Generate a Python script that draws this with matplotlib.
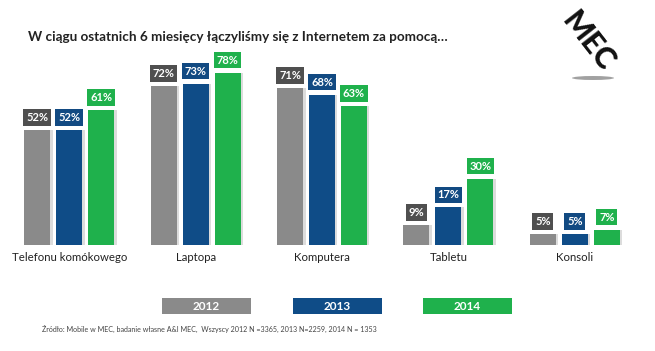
import matplotlib
matplotlib.use("Agg")
import matplotlib.pyplot as plt
from matplotlib.patches import Rectangle, Ellipse
import numpy as np

plt.rcParams['font.family'] = ['Lato', 'DejaVu Sans']

categories = ["Telefonu komókowego", "Laptopa", "Komputera", "Tabletu", "Konsoli"]
years = ["2012", "2013", "2014"]
v2012 = [52, 72, 71, 9, 5]
v2013 = [52, 73, 68, 17, 5]
v2014 = [61, 78, 63, 30, 7]
series = [v2012, v2013, v2014]

bar_colors = ["#8a8a8a", "#0f4c87", "#1fb14c"]
label_colors = ["#4f4f4f", "#124a82", "#1fb14c"]

W, H = 655, 351
fig = plt.figure(figsize=(W/100, H/100), dpi=100)
fig.patch.set_facecolor("white")

ax = fig.add_axes([6/W, (H-245)/H, 632/W, 221/H])
ax.set_xlim(-0.5, 4.5)
ax.set_ylim(0, 100)
ax.axis("off")

x = np.arange(len(categories))
off = 0.253
bw = 0.205
for i, vals in enumerate(series):
    xs = x + (i-1)*off
    # soft shadow
    ax.bar(xs + 0.02, vals, width=bw, color="#dcdcdc", zorder=1)
    ax.bar(xs, vals, width=bw, color=bar_colors[i], zorder=2)
    for xi, v in zip(xs, vals):
        ax.annotate(f"{v}%", (xi, v), xytext=(0, 9), textcoords="offset points",
                    ha="center", va="center", color="white", fontsize=8,
                    fontweight="bold",
                    bbox=dict(boxstyle="square,pad=0.25", fc=label_colors[i], ec="none"),
                    zorder=3)

for xi, c in zip(x, categories):
    ax.text(xi, -5.5, c, ha="center", va="center", fontsize=8.2, color="#222222")

fig.text(28/W, 1-37/H, "W ciągu ostatnich 6 miesięcy łączyliśmy się z Internetem za pomocą…",
         fontsize=9.7, fontweight="bold", color="#222222", ha="left", va="center")

# legend boxes
leg_x = [162, 293, 423]
for lx, yr, col in zip(leg_x, years, bar_colors):
    fig.patches.append(Rectangle((lx/W, 1-314/H), 89/W, 16/H, transform=fig.transFigure,
                                 fc=col, ec="none"))
    fig.text((lx+44.5)/W, 1-306/H, yr, ha="center", va="center", color="white",
             fontsize=8.5, fontweight="bold")

fig.text(42/W, 1-329/H,
         "Źródło: Mobile w MEC, badanie własne A&I MEC,  Wszyscy 2012 N =3365, 2013 N=2259, 2014 N = 1353",
         fontsize=5.1, color="#444444", ha="left", va="center")

# MEC logo
fig.patches.append(Ellipse((593/W, 1-78/H), 42/W, 4/H, transform=fig.transFigure,
                           fc="#8a8a8a", ec="none", alpha=0.8))
fig.text(588/W, 1-42/H, "MEC", rotation=-52, ha="center", va="center",
         fontsize=22, fontweight="black", color="#111111")

fig.savefig("out.png", dpi=100, facecolor="white")
